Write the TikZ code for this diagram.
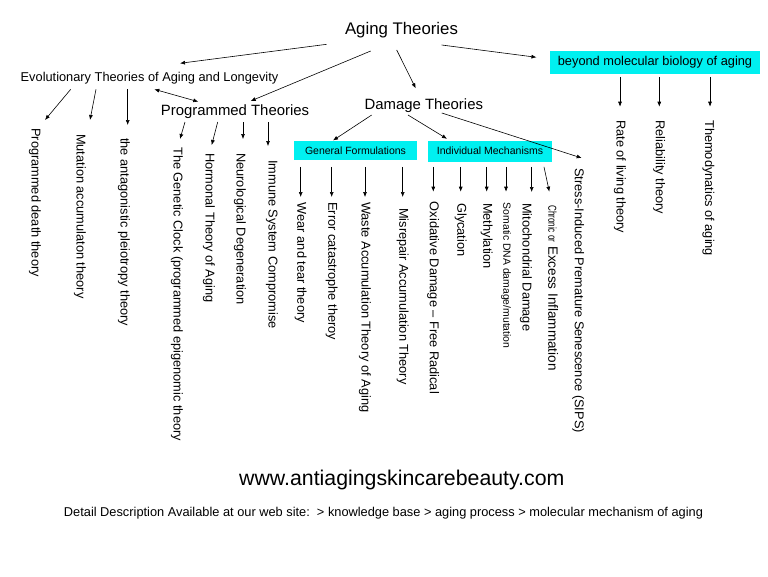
\documentclass[tikz,border=0pt]{standalone}
\usepackage{fontspec}
\setmainfont{Liberation Sans}
\usetikzlibrary{arrows.meta,calc}
\definecolor{boxcyan}{RGB}{0,240,240}
\begin{document}
\begin{tikzpicture}[x=1pt,y=-1pt,
  lbl/.style={inner sep=0pt, anchor=base, font=\fontsize{12.8}{14}\selectfont},
  vlbl/.style={inner sep=0pt, anchor=west, rotate=-90, font=\fontsize{12.8}{14}\selectfont},
  cbox/.style={fill=boxcyan, inner sep=0pt, anchor=center},
  arr/.style={-{Latex[length=5pt,width=4pt]}, line width=0.6pt},
  darr/.style={{Latex[length=5pt,width=4pt]}-{Latex[length=5pt,width=4pt]}, line width=0.6pt}
]
\fill[white] (0,0) rectangle (768,576);
\useasboundingbox (0,0) rectangle (768,576);

% main headings
\node[lbl, font=\fontsize{16.8}{18}\selectfont] (aging) at (401.5,34.5) {Aging Theories};
\node[lbl] (evo) at (149.5,81) {Evolutionary Theories of Aging and Longevity};
\node[lbl, font=\fontsize{14.9}{16}\selectfont] (prog) at (235,115) {Programmed Theories};
\node[lbl, font=\fontsize{14.9}{16}\selectfont] (dam) at (423.8,109.5) {Damage Theories};
\node[cbox, minimum width=210pt, minimum height=23.3pt, font=\fontsize{12.8}{14}\selectfont] (beyond) at (655,62.3) {beyond molecular biology of aging};
\node[cbox, minimum width=123pt, minimum height=19.3pt, font=\fontsize{10.5}{12}\selectfont] (gf) at (355.5,150.3) {General Formulations};
\node[cbox, minimum width=124pt, minimum height=21pt, font=\fontsize{10.5}{12}\selectfont] (im) at (490,151.2) {Individual Mechanisms};

% evolutionary children
\node[vlbl] (pdt) at (35,128) {Programmed death theory};
\node[vlbl] (mut) at (80,134) {Mutation accumulaton theory};
\node[vlbl] (ant) at (124,138) {the antagonistic pleiotropy theory};

% programmed children
\node[vlbl] (gen) at (177,147) {The Genetic Clock (programmed epigenomic theory};
\node[vlbl] (hor) at (209,153) {Hormonal Theory of Aging};
\node[vlbl] (neu) at (240,153) {Neurological Degeneration};
\node[vlbl] (imm) at (272,160) {Immune System Compromise};

% general formulations children
\node[vlbl] (wear) at (300.7,202.7) {Wear and tear theory};
\node[vlbl] (err) at (331.7,202) {Error catastrophe theroy};
\node[vlbl] (waste) at (365,202) {Waste Accumulation Theory of Aging};
\node[vlbl] (mis) at (402.7,208) {Misrepair Accumulation Theory};

% individual mechanisms children
\node[vlbl] (ox) at (433.3,201.7) {Oxidative Damage -- Free Radical};
\node[vlbl] (gly) at (460.7,203) {Glycation};
\node[vlbl] (met) at (486.7,203) {Methylation};
\node[vlbl, font=\fontsize{10.4}{12}\selectfont] (som) at (506,202.7) {Somatic DNA damage/mutation};
\node[vlbl] (mit) at (526,203) {Mitochondrial Damage};
\node[vlbl, font=\fontsize{13.5}{15}\selectfont] (chr) at (553.3,205) {\scalebox{0.7}[1]{\fontsize{11.5}{13}\selectfont Chronic or} Excess Inflammation};
\node[vlbl] (sips) at (578.3,168) {Stress-Induced Premature Senescence (SIPS)};

% beyond children
\node[vlbl] (rate) at (620,120) {Rate of living theory};
\node[vlbl] (relt) at (659.3,120) {Reliability theory};
\node[vlbl] (thermo) at (708.3,120) {Themodynatics of aging};

% bottom texts
\node[lbl, font=\fontsize{21.3}{24}\selectfont] (url) at (401.8,485) {www.antiagingskincarebeauty.com};
\node[lbl] (detail) at (383.5,516) {Detail Description Available at our web site:\ \ > knowledge base > aging process > molecular mechanism of aging};

% top-level arrows
\draw[arr] ($(aging.base)+(-74.8,9.8)$) -- ($(evo.base)+(30.5,-17.7)$);
\draw[arr] ($(aging.base)+(-30.8,16.5)$) -- ($(prog.base)+(15.7,-14)$);
\draw[arr] ($(aging.base)+(-4.8,15.5)$) -- ($(dam.base)+(-8.1,-21.2)$);
\draw[arr] ($(aging.base)+(40.2,10.5)$) -- ($(beyond.west)+(-13.3,-5)$);
\draw[darr] ($(evo.base)+(4.8,8.3)$) -- ($(prog.base)+(-36.7,-13.3)$);

% evolutionary arrows
\draw[arr] ($(evo.base)+(-78.8,8.3)$) -- ($(pdt.west)+(10,-8)$);
\draw[arr] ($(evo.base)+(-53.5,8.3)$) -- ($(mut.west)+(10,-14)$);
\draw[arr] ($(evo.base)+(-21.8,8.3)$) -- ($(ant.west)+(3.7,-13)$);

% programmed arrows
\draw[arr] ($(prog.base)+(-50,7)$) -- ($(gen.west)+(3,-8)$);
\draw[arr] ($(prog.base)+(-17.3,7)$) -- ($(hor.west)+(2.7,-8)$);
\draw[arr] ($(prog.base)+(8,7)$) -- ($(neu.west)+(3,-14)$);
\draw[arr] ($(prog.base)+(33,7)$) -- ($(imm.west)+(-4,-14)$);

% damage arrows
\draw[arr] ($(dam.base)+(-52.1,5.5)$) -- ($(gf.north)+(-22.5,0)$);
\draw[arr] ($(dam.base)+(-15.8,5.5)$) -- ($(im.north)+(-43,-1.7)$);
\draw[arr] ($(dam.base)+(18,3.5)$) -- ($(sips.west)+(3.4,-10)$);

% general formulations arrows
\draw[arr] ($(gf.south)+(-54.8,6.7)$) -- ($(wear.west)+(0,-5.7)$);
\draw[arr] ($(gf.south)+(-23.8,6.7)$) -- ($(err.west)+(0,-5)$);
\draw[arr] ($(gf.south)+(9.5,6.7)$) -- ($(waste.west)+(0,-5)$);
\draw[arr] ($(gf.south)+(47.2,6.7)$) -- ($(mis.west)+(0,-11)$);

% individual mechanisms arrows
\draw[arr] ($(im.south)+(-56.7,5)$) -- ($(ox.west)+(0,-10)$);
\draw[arr] ($(im.south)+(-29.3,5)$) -- ($(gly.west)+(0,-11.3)$);
\draw[arr] ($(im.south)+(-3.3,5)$) -- ($(met.west)+(0,-11.3)$);
\draw[arr] ($(im.south)+(16,5)$) -- ($(som.west)+(0,-11)$);
\draw[arr] ($(im.south)+(41.7,5)$) -- ($(mit.west)+(5.7,-11)$);
\draw[arr] ($(im.south)+(54,5)$) -- ($(chr.west)+(-4,-13.3)$);

% beyond arrows
\draw[arr] ($(beyond.south)+(-35,2.7)$) -- ($(rate.west)+(0,-13.3)$);
\draw[arr] ($(beyond.south)+(4.3,2.7)$) -- ($(relt.west)+(0,-13.3)$);
\draw[arr] ($(beyond.south)+(55,2.7)$) -- ($(thermo.west)+(1.7,-13.3)$);
\end{tikzpicture}
\end{document}
